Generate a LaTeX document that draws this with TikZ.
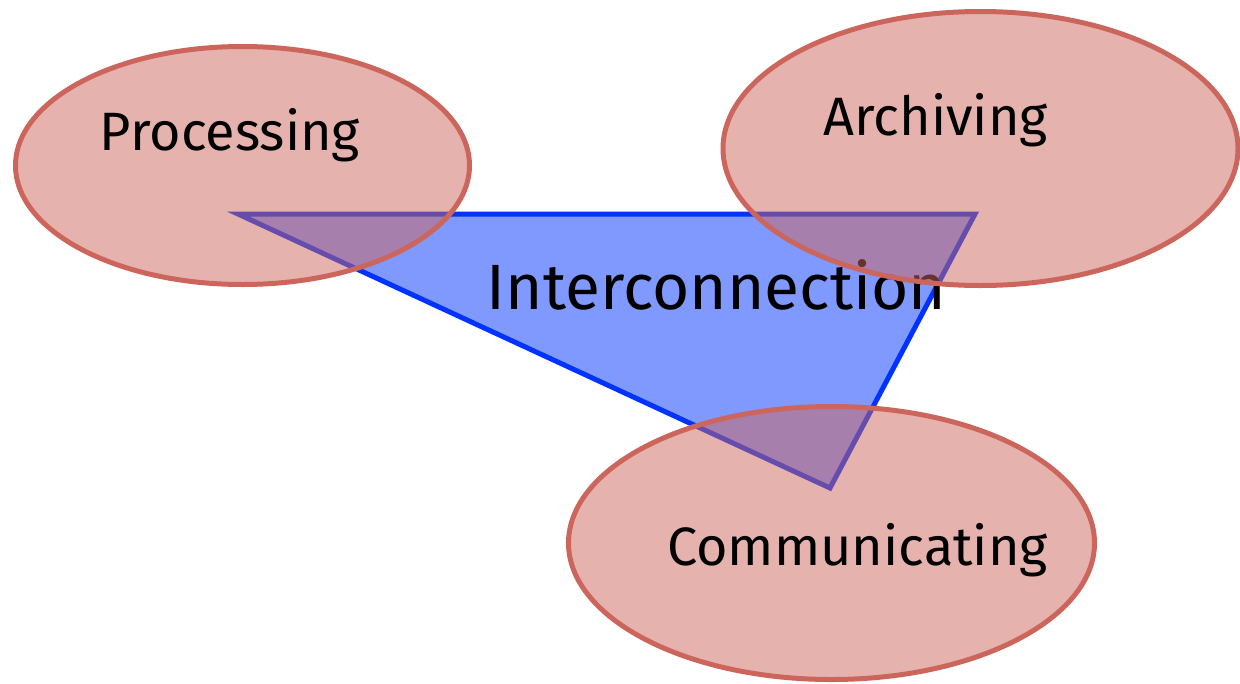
\documentclass[tikz,border=0pt]{standalone}
\usepackage{fontspec}
\setmainfont{Fira Sans}
\usetikzlibrary{shapes.geometric}
\definecolor{ellc}{RGB}{204,102,92}
\definecolor{trifill}{RGB}{128,153,255}
\definecolor{triline}{RGB}{0,51,255}
\tikzset{
  blob/.style={ellipse, draw=ellc, line width=5pt, fill=ellc, fill opacity=0.5, draw opacity=1, inner sep=0pt},
  lbl/.style={anchor=base, inner sep=0pt, font=\fontsize{54}{60}\selectfont},
  biglbl/.style={anchor=base, inner sep=0pt, font=\fontsize{64}{72}\selectfont}
}
\begin{document}
\begin{tikzpicture}[x=1pt,y=-1pt]
\useasboundingbox (0,0) rectangle (1240,683);
\coordinate (t1) at (238,214);
\coordinate (t2) at (975,214);
\coordinate (t3) at (830,488);
\draw[triline, fill=trifill, line width=5pt, line join=miter] (t1) -- (t2) -- (t3) -- cycle;
\node[biglbl] (inter) at (716.5,309) {Interconnection};
\node[blob, minimum width=454pt, minimum height=238pt] (proc) at (242.5,165.5) {};
\node[blob, minimum width=515pt, minimum height=274pt] (arch) at (980.5,148.5) {};
\node[blob, minimum width=526pt, minimum height=273pt] (comm) at (831.5,543) {};
\node[lbl] (proct) at (230,150) {Processing};
\node[lbl] (archt) at (935.5,135) {Archiving};
\node[lbl] (commt) at (857.5,565) {Communicating};
\end{tikzpicture}
\end{document}
